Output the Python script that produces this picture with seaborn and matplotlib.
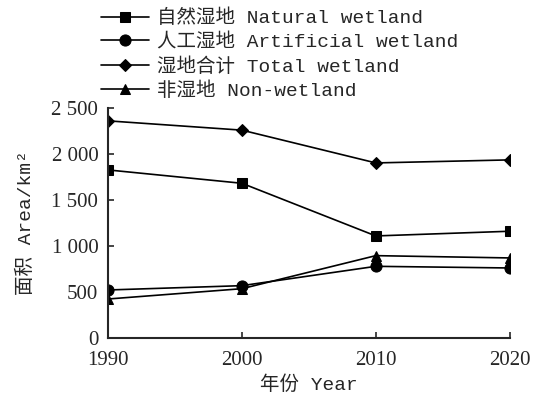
import pandas as pd
import matplotlib
matplotlib.use("Agg")
import matplotlib.pyplot as plt
import seaborn as sns
from matplotlib.ticker import FuncFormatter

# 数据
years = [1990, 2000, 2010, 2020]
natural = [1826, 1681, 1109, 1160]
artificial = [522, 569, 779, 761]
total = [2359, 2258, 1902, 1935]
non_wetland = [424, 536, 895, 870]

labels = ["自然湿地 Natural wetland", "人工湿地 Artificial wetland",
          "湿地合计 Total wetland", "非湿地 Non-wetland"]
markers = ["s", "o", "D", "^"]
msizes = [6.5, 8, 6, 7]

sns.set_style("ticks")
mono = ["Liberation Mono", "Noto Sans CJK SC"]
serif = ["Liberation Serif", "Noto Sans CJK SC"]
plt.rcParams["font.family"] = mono

df = pd.DataFrame({"year": years * 4,
                   "area": natural + artificial + total + non_wetland,
                   "type": [l for l in labels for _ in years]})

fig = plt.figure(figsize=(5.36, 4.01), dpi=100)
ax = fig.add_axes([0.2015, 0.157, 0.7495, 0.574])

for lab, m, ms in zip(labels, markers, msizes):
    sub = df[df["type"] == lab]
    sns.lineplot(data=sub, x="year", y="area", ax=ax, color="black", lw=1.2,
                 marker=m, markersize=ms, markeredgecolor="black",
                 markerfacecolor="black", label=lab)

ax.set_xlim(1990, 2020)
ax.set_ylim(0, 2500)
ax.set_xticks(years)
ax.set_yticks([0, 500, 1000, 1500, 2000, 2500])
ax.yaxis.set_major_formatter(FuncFormatter(lambda v, p: f"{int(v):,}".replace(",", " ")))
ax.tick_params(direction="in", length=4, width=1.2, labelsize=15)
ax.tick_params(axis="y", pad=7)
ax.tick_params(axis="x", pad=9)
for t in ax.get_xticklabels() + ax.get_yticklabels():
    t.set_family(serif)
for s in ["top", "right"]:
    ax.spines[s].set_visible(False)
for s in ["left", "bottom"]:
    ax.spines[s].set_linewidth(1.5)

ax.set_xlabel("年份 Year", fontsize=14, labelpad=4)
ax.set_ylabel("面积 Area/km²", fontsize=14, labelpad=12)

ax.legend(loc="upper left", bbox_to_anchor=(0.188, 0.978), bbox_transform=fig.transFigure,
          frameon=False, fontsize=14, handlelength=2.5, handletextpad=0.4,
          labelspacing=0.3, borderpad=0, borderaxespad=0)

fig.savefig("out.png", dpi=100)
